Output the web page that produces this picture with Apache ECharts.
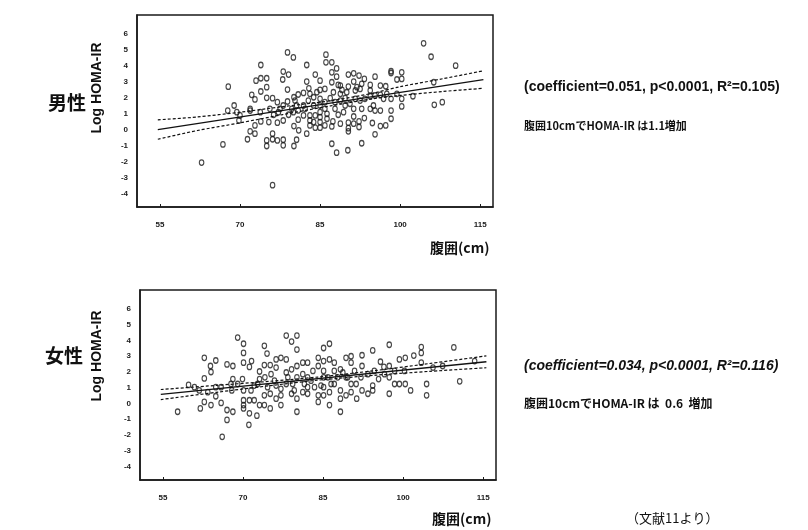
<!DOCTYPE html>
<html><head><meta charset="utf-8">
<script src="https://cdn.jsdelivr.net/npm/echarts@6/dist/echarts.min.js"></script>
<style>html,body{margin:0;padding:0;background:#fff}#c{width:808px;height:530px}</style>
</head><body><div id="c"></div>
<script>
// ---------- data ----------
const xTicks = [55, 70, 85, 100, 115];
const yTicks = [-4, -3, -2, -1, 0, 1, 2, 3, 4, 5, 6];

// male: [waist cm, log HOMA-IR]
const malePoints = [
[104.4,5.42],[105.8,4.58],[110.4,4.02],[106.4,1.56],[107.9,1.73],[102.4,2.1],[62.8,-2.06],[66.8,-0.92],[76.1,-3.48],
[67.8,2.7],[68.9,1.52],[67.7,1.2],[69.8,0.58],[71.4,-0.6],[71.9,-0.1],[72.8,-0.25],[72.8,0.27],[73.9,4.06],[73,3.08],
[73.9,3.23],[75,3.23],[75,2.67],[73.9,2.4],[72.2,2.19],[72.8,1.9],[75,2.0],[76.1,1.98],[77,1.73],[71.9,1.2],[73.9,0.52],
[75.4,0.48],[77,0.44],[75,-0.67],[75,-1.02],[76.1,-0.6],[76.1,-0.25],[77,-0.67],[78.1,-0.63],[78.1,-0.98],[80.1,-1.02],
[80.6,-0.63],[81,-0.04],[80.1,0.23],[78.9,4.85],[80,4.54],[78.1,3.65],[79.1,3.46],[78,3.15],[78.9,2.52],[78.9,1.77],
[80.1,2.04],[80.9,2.21],[81.9,2.31],[82.5,4.06],[82.5,3.02],[82.9,2.6],[84.1,3.46],[85,3.08],[85,2.5],[86.1,4.71],
[86.1,4.23],[87.2,4.23],[87.2,3.6],[88.1,3.85],[88.1,3.33],[87.2,2.98],[88.4,2.81],[89.1,2.5],[90.3,3.46],[91.3,3.54],
[92.3,3.4],[93.3,3.19],[90.3,2.71],[91.3,3.02],[91.9,2.67],[92.5,2.56],[94.4,2.81],[95.3,3.33],[96.3,2.77],[97.3,2.73],
[98.3,3.67],[98.3,3.56],[99.4,3.15],[100.3,3.6],[100.3,3.19],[98.3,1.94],[98.3,1.2],[98.3,0.69],[100.3,1.46],[100.3,1.94],
[97.3,0.27],[96.3,0.23],[95.3,-0.29],[94.8,0.42],[96.3,1.2],[95.3,1.2],[94.4,1.31],[93.3,0.73],[92.3,0.52],[92.3,0.17],
[91.3,0.83],[90.3,0.44],[90.3,0.1],[90.3,-0.1],[90.2,-1.29],[88.1,-1.44],[87.2,-0.88],[92.8,-0.85],[87.2,0.21],[87.4,0.52],
[86.3,0.69],[85,0.48],[85,0.13],[84.1,0.13],[83.1,0.27],[83.1,0.9],[84.1,0.9],[81.9,0.9],[80.9,0.63],[80,1.1],
[79.1,0.94],[78.1,0.58],[77.2,1.1],[76.3,0.94],[75.6,1.31],[73.8,1.1],[71.9,1.31],[81.9,1.52],[82.8,1.83],[83.8,2.04],
[83.8,1.52],[85,1.94],[85,1.52],[85.9,1.73],[85.9,1.31],[86.9,1.98],[87.8,1.73],[87.8,1.31],[88.8,1.83],[89.7,1.98],
[89.7,1.52],[90.6,1.63],[91.6,1.94],[92.5,1.83],[93.4,1.94],[94.4,2.1],[95.3,2.15],[96.3,2.19],[97.5,2.25],[85,1.1],
[86.3,1.0],[88.4,0.94],[89.4,1.1],[82.2,1.31],[80.6,1.52],[80.3,1.83],[80.9,1.21],[83.1,0.58],[85,0.79],[87.5,2.35],
[88.8,2.25],[90,2.35],[91.6,2.46],[92.8,2.88],[94.4,2.46],[83.1,2.25],[84.4,2.35],[85.9,2.56],[88.8,2.77],[77.5,1.31],
[70,0.9],[69.4,1.1],[78.1,1.52],[79.7,1.31],[82.5,-0.25],[83.8,0.48],[85.9,0.27],[88.8,0.38],[91.3,1.31],[92.8,1.31],
[95,1.52],[96.9,1.94],[99.4,2.25],[106.3,2.98],[91.3,0.38]
];
const maleFit   = [[54.6,0.0],[115.6,3.15]];
const maleUpper = [[54.6,0.62],[62,0.8],[70,1.1],[78,1.45],[87,1.82],[95,2.3],[100,2.7],[108,3.2],[115.6,3.7]];
const maleLower = [[54.6,-0.6],[62,-0.05],[70,0.43],[78,0.95],[87,1.5],[95,1.95],[100,2.15],[108,2.4],[115.6,2.6]];

// female
const femalePoints = [
[57.75,-0.52],[59.8,1.18],[62,-0.31],[62.75,2.9],[62.75,1.59],[62.75,0.1],[63.9,2.38],[64,2.0],[64,-0.1],[64.9,2.73],
[64.9,0.46],[65.9,0.04],[66.1,-2.11],[67,2.48],[67,-0.41],[67,-1.04],[68.1,2.38],[68.1,-0.52],[68.1,1.55],[67.9,0.83],
[69,4.18],[70.1,3.79],[70.1,3.21],[70.1,2.59],[69.9,1.55],[70.1,0.83],[70.1,0.21],[70.1,-0.1],[70.1,-0.31],[71.1,-1.35],
[71.2,-0.62],[71.2,0.21],[71.2,2.32],[71.6,2.69],[72.1,1.14],[72.1,0.21],[72.6,-0.77],[73.1,2.03],[73.1,-0.1],[73.1,1.55],
[74,3.66],[74.5,3.17],[74,2.44],[74,0.52],[74,-0.1],[74.1,1.66],[75.1,2.44],[75.1,-0.31],[75.1,0.62],[75.25,1.86],
[76.2,2.8],[76.2,2.28],[76.2,0.31],[76.2,1.14],[77.1,2.9],[77.1,0.52],[77.1,-0.1],[78.1,2.8],[78.1,4.31],[78.1,1.97],
[78.1,1.24],[79.1,3.93],[79.1,2.17],[79.1,0.62],[80.1,4.31],[80.1,3.42],[80.1,2.38],[80.1,1.66],[80.1,0.31],[80.1,-0.52],
[81.2,2.59],[81.2,1.86],[81.2,0.72],[82.1,2.59],[82.1,1.66],[82.1,0.62],[83.1,2.07],[84.1,2.9],[84.1,2.38],[84.1,0.52],
[84.1,0.1],[85.1,3.52],[85.1,2.69],[85.1,2.07],[85.1,1.66],[85.1,1.04],[85.1,0.52],[86.2,3.79],[86.2,2.8],[86.2,-0.1],
[86.2,0.72],[87.1,2.59],[87.1,2.07],[87.1,1.24],[88.25,2.17],[88.25,-0.52],[88.25,0.31],[88.25,0.83],[89.3,2.9],[89.3,1.66],
[89.3,0.52],[90.25,3.0],[90.25,2.59],[90.25,0.72],[90.25,1.24],[91.2,1.24],[91.3,0.31],[92.3,3.06],[92.3,2.38],[92.3,0.83],
[93.4,1.86],[93.4,0.62],[94.3,3.37],[94.3,1.14],[94.3,0.83],[95.4,1.55],[95.75,2.65],[96.4,2.32],[97.4,3.73],[97.4,2.38],
[97.4,0.62],[97.4,1.66],[98.4,1.24],[99.3,2.8],[99.3,1.24],[100.4,2.9],[100.4,1.24],[101.4,0.83],[102,3.04],[103.4,3.58],
[103.4,3.21],[103.4,2.59],[104.4,1.24],[104.4,0.52],[105.6,2.28],[107.4,2.38],[109.5,3.56],[110.6,1.41],[113.4,2.69],
[78.4,1.66],[79.3,1.24],[81.5,1.24],[82.75,1.45],[83.4,1.04],[85.9,1.66],[86.5,1.24],[87.75,1.66],[88.7,1.97],[89.6,1.66],
[90.9,2.07],[92.1,1.66],[94.6,2.07],[96.5,1.86],[98.4,2.07],[100.25,2.07],[75.9,1.45],[72.75,1.24],[71.5,0.83],[69,1.24],
[67.75,1.24],[65.9,1.04],[64.9,1.04],[63.4,0.72],[61.8,0.83],[60.9,1.04],[77.1,0.93],[82.1,1.04],[84.6,1.14],[74.6,1.04],
[79.6,0.83]
];
const femaleFit   = [[54.6,0.58],[115.6,2.65]];
const femaleUpper = [[54.6,0.89],[65,1.15],[75,1.41],[84,1.68],[95,2.1],[105,2.54],[115.6,3.02]];
const femaleLower = [[54.6,0.25],[65,0.71],[75,1.13],[84,1.48],[95,1.8],[105,2.04],[115.6,2.27]];

// ---------- chart ----------
const chart = echarts.init(document.getElementById('c'), null, {renderer: 'canvas'});
const LAT = '"Liberation Sans", Arial, sans-serif';
const JP = '"Noto Sans CJK JP", sans-serif';
const INK = '#1a1a1a';

function xAxis(gi) {
  return {
    type: 'value', gridIndex: gi, min: 50.7, max: 117.4,
    splitLine: {show: false},
    axisLine: {show: true, onZero: false, lineStyle: {color: INK, width: 1.5}},
    axisTick: {show: true, inside: true, length: 3, customValues: xTicks, lineStyle: {color: INK}},
    axisLabel: {customValues: xTicks, margin: 14, color: INK, fontSize: 8, fontWeight: 'bold', fontFamily: LAT}
  };
}
function yAxis(gi) {
  return {
    type: 'value', gridIndex: gi, min: -4.85, max: 7.2,
    splitLine: {show: false},
    axisLine: {show: true, onZero: false, lineStyle: {color: INK, width: 1.5}},
    axisTick: {show: false},
    axisLabel: {customValues: yTicks, margin: 9, color: INK, fontSize: 8, fontWeight: 'bold', fontFamily: LAT}
  };
}
function scatter(i, d) {
  return {type: 'scatter', xAxisIndex: i, yAxisIndex: i, data: d, symbol: 'circle', symbolSize: [4.5, 5.5],
    itemStyle: {color: 'rgba(0,0,0,0)', borderColor: '#1a1a1a', borderWidth: 1.2}, silent: true};
}
function line(i, d, dashed) {
  return {type: 'line', xAxisIndex: i, yAxisIndex: i, data: d, symbol: 'none', smooth: dashed ? 0.3 : false, silent: true,
    lineStyle: {color: '#111', width: dashed ? 1.2 : 1.3, type: dashed ? [3, 2] : 'solid'}, z: 3};
}

chart.setOption({
  animation: false,
  backgroundColor: '#fff',
  grid: [
    {left: 137, top: 15, width: 356, height: 192, show: true, borderColor: INK, borderWidth: 1.5, backgroundColor: 'transparent'},
    {left: 140, top: 290, width: 356, height: 190, show: true, borderColor: INK, borderWidth: 1.5, backgroundColor: 'transparent'}
  ],
  xAxis: [xAxis(0), xAxis(1)],
  yAxis: [yAxis(0), yAxis(1)],
  series: [
    scatter(0, malePoints), line(0, maleFit, false), line(0, maleUpper, true), line(0, maleLower, true),
    scatter(1, femalePoints), line(1, femaleFit, false), line(1, femaleUpper, true), line(1, femaleLower, true)
  ],
  graphic: [
    {type: 'text', left: 48, top: 93, style: {text: '男性', font: 'bold 19px ' + JP, fill: '#111'}},
    {type: 'text', left: 45, top: 346, style: {text: '女性', font: 'bold 19px ' + JP, fill: '#111'}},
    {type: 'text', x: 97, y: 88, rotation: Math.PI / 2, style: {text: 'Log HOMA-IR', font: 'bold 14px ' + LAT, fill: '#111', align: 'center', verticalAlign: 'middle'}},
    {type: 'text', x: 97, y: 356, rotation: Math.PI / 2, style: {text: 'Log HOMA-IR', font: 'bold 14px ' + LAT, fill: '#111', align: 'center', verticalAlign: 'middle'}},
    {type: 'text', left: 430, top: 241, style: {text: '腹囲(cm)', font: 'bold 14px ' + JP, fill: '#111'}},
    {type: 'text', left: 432, top: 512, style: {text: '腹囲(cm)', font: 'bold 14px ' + JP, fill: '#111'}},
    {type: 'text', left: 626, top: 512, style: {text: '（文献11より）', font: '13px ' + JP, fill: '#111'}},
    {type: 'text', left: 524, top: 80, style: {text: '(coefficient=0.051, p<0.0001, R²=0.105)', font: 'bold 14px ' + LAT, fill: '#111'}},
    {type: 'text', left: 524, top: 120, style: {text: '腹囲10cmでHOMA-IR は1.1増加', font: 'bold 11px ' + JP, fill: '#111'}},
    {type: 'text', left: 524, top: 359, style: {text: '(coefficient=0.034, p<0.0001, R²=0.116)', font: 'italic bold 14px ' + LAT, fill: '#111'}},
    {type: 'text', left: 524, top: 397, style: {text: '腹囲10cmでHOMA-IR は  0.6  増加', font: 'bold 12px ' + JP, fill: '#111'}}
  ]
});
</script></body></html>
